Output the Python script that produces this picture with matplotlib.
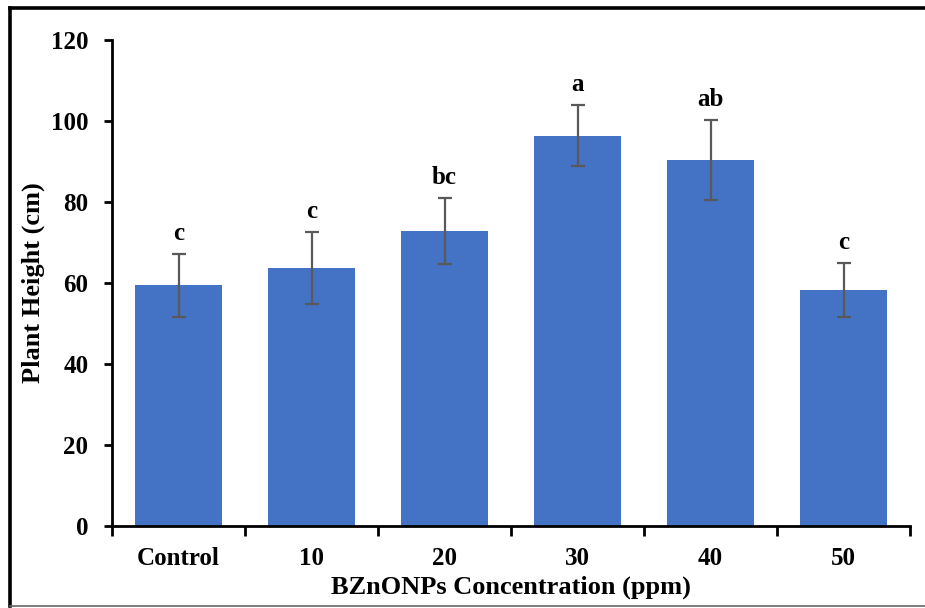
import numpy as np
import matplotlib.pyplot as plt
from matplotlib.lines import Line2D

# data
labels = ['Control', '10', '20', '30', '40', '50']
height = [59.4, 63.6, 72.8, 96.4, 90.4, 58.3]
err = [7.7, 8.9, 8.1, 7.5, 9.8, 6.6]
letters = ['c', 'c', 'bc', 'a', 'ab', 'c']

plt.rcParams['font.family'] = ['Liberation Serif', 'DejaVu Serif']
plt.rcParams['font.weight'] = 'bold'

fig = plt.figure(figsize=(9.25, 6.08), dpi=100)
ax = fig.add_axes([112/925, 1 - 526/608, (910-112)/925, (526-40)/608])

x = np.arange(len(labels))
ax.bar(x, height, width=0.66, color='#4472C4', zorder=2)
ax.errorbar(x, height, yerr=err, fmt='none', ecolor='#595959',
            elinewidth=1.6, capsize=5, capthick=1.6, zorder=3)
for xi, h, e, s in zip(x, height, err, letters):
    ax.text(xi, h + e + 2.3, s, ha='center', va='bottom',
            fontsize=18, fontweight='bold')

ax.set_xlim(-0.5, len(labels) - 0.5)
ax.set_ylim(0, 120)
ax.set_yticks(np.arange(0, 121, 20))
ax.set_xticks(x)
ax.set_xticklabels(labels)
ax.set_xticks(np.arange(-0.5, len(labels), 1), minor=True)
ax.tick_params(axis='x', which='major', length=0, pad=15, labelsize=18)
ax.tick_params(axis='x', which='minor', length=7, width=2, direction='out')
ax.tick_params(axis='y', length=6, width=2, direction='out', labelsize=18, pad=11)
for sp in ['top', 'right']:
    ax.spines[sp].set_visible(False)
for sp in ['left', 'bottom']:
    ax.spines[sp].set_linewidth(2)

ax.set_xlabel('BZnONPs Concentration (ppm)', fontsize=19, fontweight='bold', labelpad=4)
ax.set_ylabel('Plant Height (cm)', fontsize=19, fontweight='bold', labelpad=4)

# chart border: thick left and top, thin grey bottom, cut off on the right
W, H = 925, 608
fig.lines.append(Line2D([10/W, 10/W], [1 - 8/H, 1 - 606/H], transform=fig.transFigure,
                        color='black', linewidth=2.6))
fig.lines.append(Line2D([10/W, 1], [1 - 8/H, 1 - 8/H], transform=fig.transFigure,
                        color='black', linewidth=2.6))
fig.lines.append(Line2D([10/W, 1], [1 - 606/H, 1 - 606/H], transform=fig.transFigure,
                        color='#666666', linewidth=1.2))

plt.savefig('out.png', dpi=100)
